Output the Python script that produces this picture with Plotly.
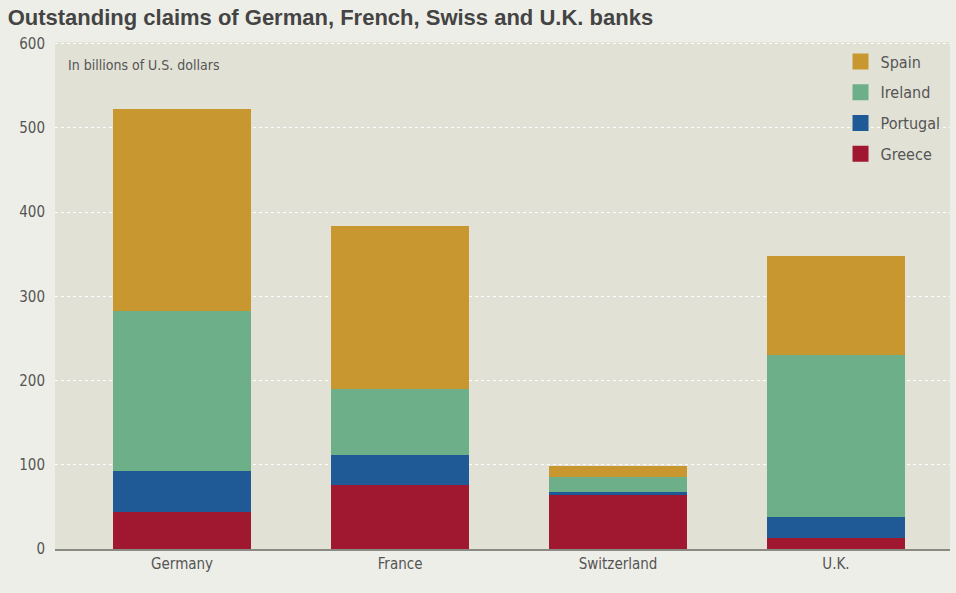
import plotly.graph_objects as go

countries = ["Germany", "France", "Switzerland", "U.K."]
greece = [44, 76, 64, 13]
portugal = [49, 36, 4, 25]
ireland = [190, 78, 17, 192]
spain = [239, 193, 14, 118]
y_ticks = [0, 100, 200, 300, 400, 500, 600]

series = [
    ("Greece", greece, "#a01830"),
    ("Portugal", portugal, "#1f5a96"),
    ("Ireland", ireland, "#6caf88"),
    ("Spain", spain, "#c8972f"),
]

narrow = "Liberation Sans Narrow, DejaVu Sans Condensed, Arial Narrow, sans-serif"

fig = go.Figure()
for name, vals, col in series:
    fig.add_trace(go.Bar(
        x=countries, y=vals, name=name, marker=dict(color=col, line=dict(width=0)),
        showlegend=False, hoverinfo="x+y+name",
    ))
for name, vals, col in reversed(series):
    fig.add_trace(go.Scatter(
        x=[None], y=[None], mode="markers", name=name, legendgroup=name,
        marker=dict(symbol="square", size=16, color=col),
    ))

fig.update_layout(
    width=956, height=593,
    barmode="stack", bargap=0.366,
    paper_bgcolor="#eeeee8", plot_bgcolor="#e1e1d6",
    margin=dict(l=55, r=6, t=42, b=44),
    title=dict(text="<b>Outstanding claims of German, French, Swiss and U.K. banks</b>",
               x=0.008, xanchor="left", y=0.970, yanchor="middle",
               font=dict(family="Liberation Sans, Arial, sans-serif", size=22, color="#444444")),
    font=dict(family=narrow, color="#555555"),
    legend=dict(x=0.995, xanchor="right", y=0.995, yanchor="top",
                traceorder="grouped", tracegroupgap=7,
                font=dict(family=narrow, size=16, color="#555555"),
                bgcolor="rgba(0,0,0,0)"),
    showlegend=True,
)
fig.update_xaxes(range=[-0.583, 3.523], showline=True, linecolor="#8a8a85", linewidth=2,
                 ticks="", tickfont=dict(family=narrow, size=15, color="#555555"),
                 showgrid=False)
fig.update_yaxes(range=[0, 602], tickvals=y_ticks, showgrid=True, gridcolor="#ffffff",
                 griddash="dot", gridwidth=1, zeroline=False,
                 tickfont=dict(family=narrow, size=15, color="#555555"), ticks="",
                 ticklabelstandoff=9)
fig.add_annotation(text="In billions of U.S. dollars", xref="paper", yref="paper",
                   x=0.012, y=0.955, xanchor="left", yanchor="middle", showarrow=False,
                   font=dict(family=narrow, size=14, color="#555555"))

fig.write_html("out.html")
